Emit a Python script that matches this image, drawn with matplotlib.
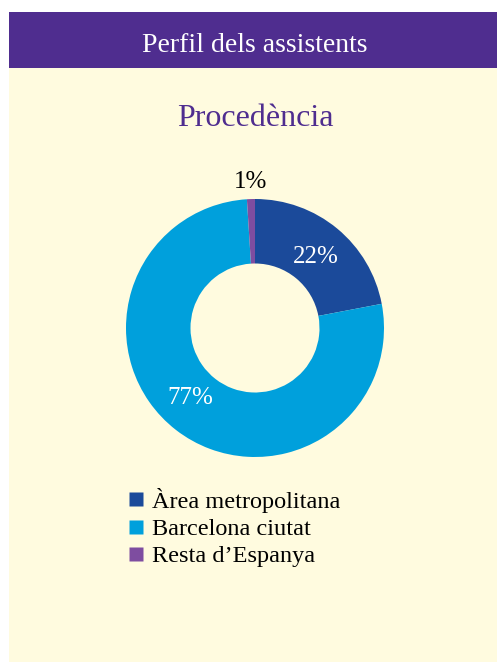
import matplotlib
matplotlib.use("Agg")
import matplotlib.pyplot as plt
from matplotlib.patches import Rectangle
from matplotlib.lines import Line2D
import numpy as np

categories = ["Àrea metropolitana", "Barcelona ciutat", "Resta d’Espanya"]
values = [22, 77, 1]
labels = ["22%", "77%", "1%"]
colors = ["#1B4A9A", "#00A0DC", "#7E4DA0"]

header = "Perfil dels assistents"
title = "Procedència"

W, H = 497, 662
fig = plt.figure(figsize=(W / 100, H / 100), dpi=100)
fig.patch.set_facecolor("white")
serif = ["Liberation Serif", "DejaVu Serif"]

def fx(x):
    return x / W

def fy(y):
    return 1 - y / H

# background axes in pixel coords (y downward)
bg = fig.add_axes([0, 0, 1, 1], zorder=-1)
bg.set_xlim(0, W)
bg.set_ylim(H, 0)
bg.axis("off")
bg.add_patch(Rectangle((9, 12), W - 9, H - 12, facecolor="#FFFBDF", edgecolor="none"))
bg.add_patch(Rectangle((9, 12), W - 9, 56, facecolor="#4F2D8F", edgecolor="none"))
bg.text(255, 42, header, ha="center", va="center_baseline", color="white",
        fontsize=20, family=serif)
bg.text(255, 115, title, ha="center", va="center_baseline", color="#4F2D8F",
        fontsize=23, family=serif)

# donut
cx, cy, r = 255, 328, 129
ax = fig.add_axes([fx(cx - r), fy(cy + r), (2 * r) / W, (2 * r) / H], zorder=1)
ax.set_facecolor("none")
wedges, texts = ax.pie(values, colors=colors, startangle=90, counterclock=False,
                       radius=1, wedgeprops=dict(width=0.5, edgecolor="none"))
dists = [0.74, 0.72, 1.15]
shifts = [0, -6, 0]
for i, w in enumerate(wedges):
    ang = np.deg2rad((w.theta1 + w.theta2) / 2 + shifts[i])
    d = dists[i]
    col = "white" if i < 2 else "black"
    ax.text(d * np.cos(ang), d * np.sin(ang), labels[i], ha="center", va="center_baseline",
            color=col, fontsize=18, family=serif)
ax.set_xlim(-1, 1)
ax.set_ylim(-1, 1)
ax.set_aspect("equal")
ax.axis("off")

# legend
handles = [Line2D([0], [0], marker="s", linestyle="none", markersize=9.5,
                  markerfacecolor=c, markeredgecolor="none") for c in colors]
leg = fig.legend(handles, categories, loc="upper left",
                 bbox_to_anchor=(fx(118), fy(478)), frameon=False,
                 prop=dict(family=serif, size=17.5), handlelength=0.7,
                 handletextpad=0.3, labelspacing=0.22, borderaxespad=0)

fig.savefig("out.png", dpi=100, facecolor="white")
